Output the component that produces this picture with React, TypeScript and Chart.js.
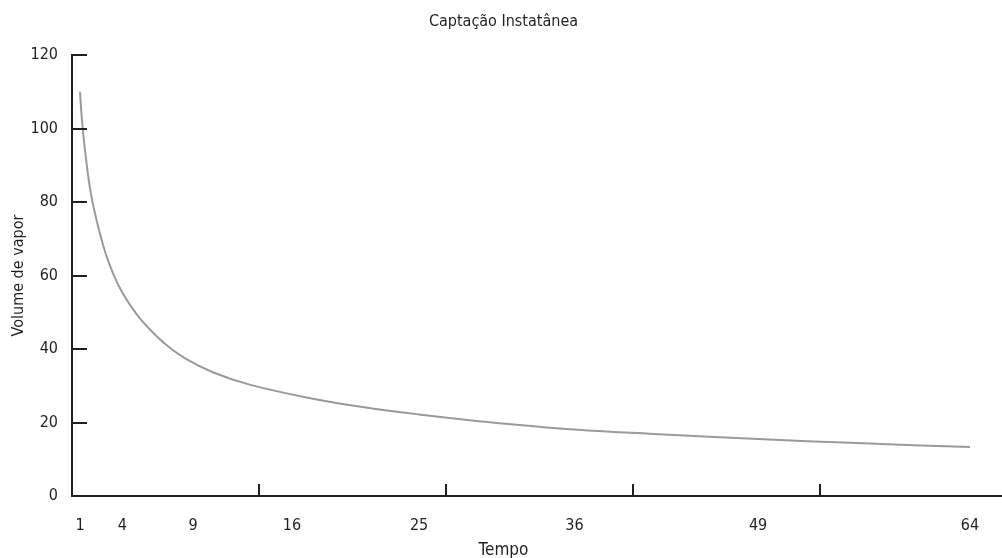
import React, { useEffect, useRef } from "react";
import { Chart, registerables } from "chart.js";

Chart.register(...registerables);

// Data
const TEMPO = [1, 1.12, 1.4, 1.83, 2.65, 3.31, 4, 5, 6, 7.14, 8.5, 10.44, 13, 17.3, 21, 25, 30, 36, 42, 49, 56, 64];
const VOLUME = [110, 103, 92.5, 81, 68, 60.8, 55.3, 49.5, 45.1, 41, 37.3, 33.6, 30.3, 26.6, 24.2, 22.2, 20.1, 18.1, 16.8, 15.5, 14.4, 13.3];
const X_TICKS = [1, 4, 9, 16, 25, 36, 49, 64];
const Y_TICKS = [0, 20, 40, 60, 80, 100, 120];

const TITLE = "Captação Instatânea";
const X_TITLE = "Tempo";
const Y_TITLE = "Volume de vapor";

const X_MIN = 0.43;
const X_MAX = 66.62;
const X_DIVISIONS = 5;

const FONT = "'Liberation Sans Narrow', 'DejaVu Sans Condensed', 'Roboto', sans-serif";
const AXIS_COLOR = "#231f20";
const TEXT_COLOR = "#231f20";
const LINE_COLOR = "#9a9a9a";

const innerTicks = {
  id: "innerTicks",
  afterDraw(chart: any) {
    const { ctx, scales, chartArea } = chart;
    const x = scales.x;
    const y = scales.y;
    ctx.save();
    ctx.strokeStyle = AXIS_COLOR;
    ctx.lineWidth = 2;
    ctx.beginPath();
    y.ticks.forEach((t: any) => {
      const py = Math.round(y.getPixelForValue(t.value));
      ctx.moveTo(chartArea.left, py);
      ctx.lineTo(chartArea.left + 15, py);
    });
    for (let k = 1; k < X_DIVISIONS; k++) {
      const v = x.min + (k * (x.max - x.min)) / X_DIVISIONS;
      const px = Math.round(x.getPixelForValue(v));
      ctx.moveTo(px, chartArea.bottom);
      ctx.lineTo(px, chartArea.bottom - 12);
    }
    ctx.stroke();
    ctx.restore();
  },
};

export default function App() {
  const ref = useRef<HTMLCanvasElement | null>(null);

  useEffect(() => {
    if (!ref.current) return;
    const chart = new Chart(ref.current, {
      type: "line",
      data: {
        datasets: [
          {
            data: TEMPO.map((t, i) => ({ x: t, y: VOLUME[i] })),
            borderColor: LINE_COLOR,
            borderWidth: 2,
            pointRadius: 0,
            tension: 0.4,
            fill: false,
          },
        ],
      },
      options: {
        animation: false,
        responsive: false,
        devicePixelRatio: 1,
        layout: { padding: { left: 0, right: 3, top: 0, bottom: 0 } },
        plugins: {
          legend: { display: false },
          tooltip: { enabled: false },
          title: {
            display: true,
            text: TITLE,
            color: TEXT_COLOR,
            font: { family: FONT, size: 16, weight: "normal" },
            padding: { top: 12.5, bottom: 23.3 },
          },
          subtitle: {
            display: true,
            position: "bottom",
            text: X_TITLE,
            color: TEXT_COLOR,
            font: { family: FONT, size: 17, weight: "normal" },
            padding: { top: 4.8, bottom: -3.2 },
          },
        },
        scales: {
          x: {
            type: "linear",
            min: X_MIN,
            max: X_MAX,
            afterBuildTicks: (s: any) => {
              s.ticks = X_TICKS.map((v) => ({ value: v }));
            },
            afterFit: (s: any) => {
              s.height = 40;
            },
            grid: { display: false, drawTicks: false },
            border: { display: true, color: AXIS_COLOR, width: 2 },
            ticks: {
              autoSkip: false,
              maxRotation: 0,
              padding: 20,
              color: TEXT_COLOR,
              font: { family: FONT, size: 16 },
              callback: (v: any) => String(v),
            },
          },
          y: {
            type: "linear",
            min: 0,
            max: 120,
            afterBuildTicks: (s: any) => {
              s.ticks = Y_TICKS.map((v) => ({ value: v }));
            },
            afterFit: (s: any) => {
              s.width = 72;
            },
            grid: { display: false, drawTicks: false },
            border: { display: true, color: AXIS_COLOR, width: 2 },
            ticks: {
              padding: 14,
              color: TEXT_COLOR,
              font: { family: FONT, size: 16 },
            },
            title: {
              display: true,
              text: Y_TITLE,
              color: TEXT_COLOR,
              font: { family: FONT, size: 16 },
              padding: { top: 9.5, bottom: 2 },
            },
          },
        },
      } as any,
      plugins: [innerTicks],
    });
    return () => chart.destroy();
  }, []);

  return (
    <div style={{ position: "fixed", left: 0, top: 0, width: 1010, height: 558, background: "#fff" }}>
      <canvas ref={ref} width={1010} height={558} style={{ display: "block" }} />
    </div>
  );
}
